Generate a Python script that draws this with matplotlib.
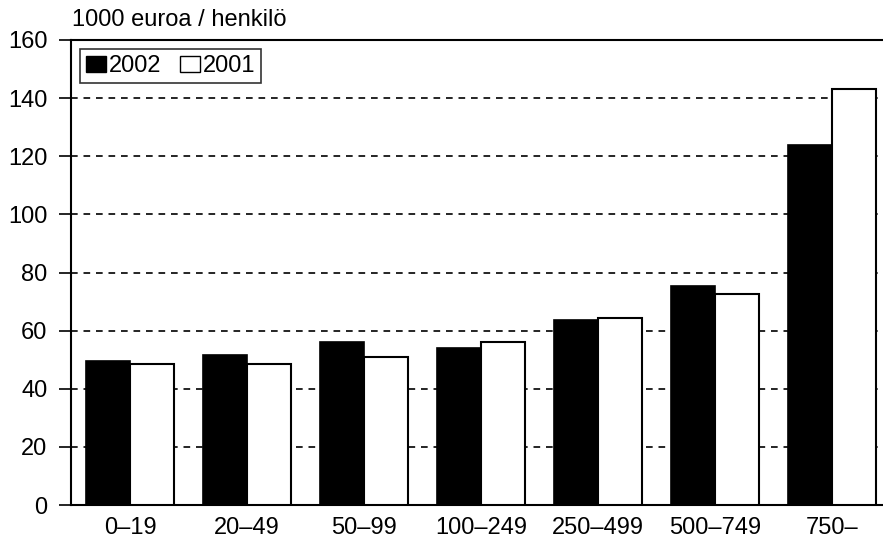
import numpy as np
import matplotlib.pyplot as plt
from matplotlib.patches import Patch

plt.rcParams['font.family'] = ['Liberation Sans', 'DejaVu Sans']

categories = ['0–19', '20–49', '50–99', '100–249', '250–499', '500–749', '750–']
values_2002 = [49.5, 51.5, 56, 54, 63.5, 75.5, 124]
values_2001 = [48.5, 48.5, 51, 56, 64.5, 72.5, 143]
yticks = [0, 20, 40, 60, 80, 100, 120, 140, 160]

fig = plt.figure(figsize=(8.83, 5.43), dpi=100)
ax = fig.add_axes([71 / 883, 1 - 505 / 543, 1 - 71 / 883, (505 - 40) / 543])

x = np.arange(len(categories))
w = 0.376
ax.bar(x - w / 2, values_2002, w, color='black', edgecolor='black', linewidth=1.2, zorder=3)
ax.bar(x + w / 2, values_2001, w, color='white', edgecolor='black', linewidth=1.5, zorder=3)

# dashed grid lines
for yv in yticks[1:-1]:
    ax.axhline(yv, color='black', linestyle=(0, (4, 3.5)), linewidth=1.2, zorder=1)

ax.set_xlim(-0.504, 6.436)
ax.set_ylim(0, 160)
ax.set_yticks(yticks)
ax.set_xticks(x)
ax.set_xticklabels(categories)
ax.tick_params(axis='y', direction='out', length=9, width=1.2, labelsize=17, pad=8)
ax.tick_params(axis='x', length=0, labelsize=17, pad=9)

ax.spines['right'].set_visible(False)
for s in ['left', 'top', 'bottom']:
    ax.spines[s].set_linewidth(1.5)

ax.text(0.001, 1.02, '1000 euroa / henkilö', transform=ax.transAxes,
        fontsize=17, ha='left', va='bottom')

handles = [Patch(facecolor='black', edgecolor='black', label='2002'),
           Patch(facecolor='white', edgecolor='black', label='2001')]
leg = ax.legend(handles=handles, loc='upper left', ncol=2, fontsize=17,
                frameon=True, fancybox=False, edgecolor='black',
                handlelength=0.85, handleheight=0.65, handletextpad=0.1,
                columnspacing=0.8, borderpad=0.25, borderaxespad=0.4)
leg.get_frame().set_linewidth(1.2)

plt.savefig('out.png', dpi=100)
